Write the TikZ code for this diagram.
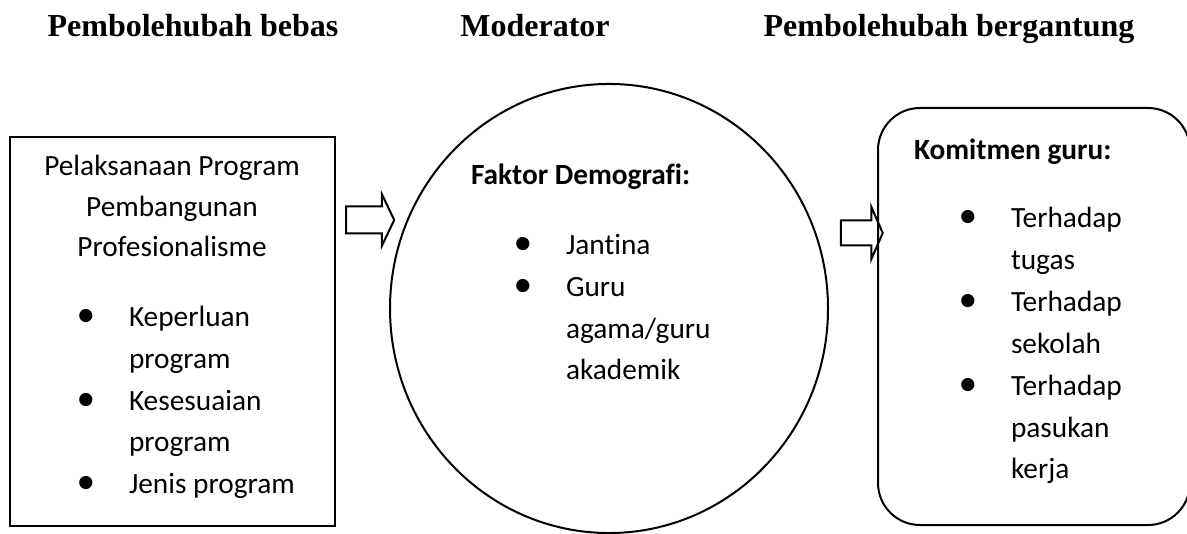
\documentclass[tikz,border=0pt]{standalone}
\usepackage{fontspec}
\setmainfont{Carlito}[Ligatures=NoCommon]
\newfontfamily\hdfont{Liberation Serif}
\usetikzlibrary{shapes.geometric,shapes.arrows}

\begin{document}
\begin{tikzpicture}[
    x=0.375pt,y=-0.375pt,
    line width=0.75pt,
    hd/.style={font=\hdfont\bfseries\fontsize{12}{14}\selectfont,anchor=base,inner sep=0},
    txt/.style={font=\fontsize{11}{13}\selectfont,inner sep=0},
    ttl/.style={font=\bfseries\fontsize{11}{13}\selectfont,inner sep=0,anchor=base west},
    blt/.style={font=\fontsize{14}{14}\selectfont,inner sep=0,anchor=base},
    varbox/.style={draw,rectangle,inner sep=0},
    hollow/.style={draw,single arrow,inner xsep=0,text height=0pt,text depth=0pt}
  ]
    \useasboundingbox (0,0) rectangle (1187,534);
    % headings
    \node[hd] (hbebas) at (193,37) {Pembolehubah bebas};
    \node[hd] (hmod) at (535,37) {Moderator};
    \node[hd] (hberg) at (949,37) {Pembolehubah bergantung};
    % the three blocks
    \node[varbox,minimum width=121.875pt,minimum height=145.875pt] (prog) at (172.5,331.5) {};
    \node[draw,ellipse,inner sep=0,minimum width=164.25pt,minimum height=168.4pt] (demo) at (609,308.5) {};
    \node[varbox,rounded corners=15.75pt,minimum width=117pt,minimum height=156.375pt] (komit) at (1034,316.5) {};
    % block arrows
    \node[hollow,inner ysep=4.6875pt,minimum height=18pt,single arrow head extend=4.6875pt,single arrow tip angle=128.8] (a1) at (367,220) {};
    \node[hollow,inner ysep=4.3125pt,minimum height=15.75pt,single arrow head extend=5.0625pt,single arrow tip angle=132.7] (a2) at (859,233) {};
    % left block text
    \foreach \ln/\yy [count=\i] in {Pelaksanaan Program/176,Pembangunan/217,Profesionalisme/257}
      \node[txt,anchor=base] (pt\i) at (172,\yy) {\ln};
    \foreach \yy [count=\i] in {327,410,493}
      \node[blt] (pb\i) at (86,\yy) {\textbullet};
    \foreach \ln/\yy [count=\i] in {Keperluan/327,program/368,Kesesuaian/410,program/451,Jenis program/493}
      \node[txt,anchor=base west] (pl\i) at (128,\yy) {\ln};
    % moderator text
    \node[ttl] (dtitle) at (470,185) {Faktor Demografi:};
    \foreach \yy [count=\i] in {255,297}
      \node[blt] (db\i) at (523,\yy) {\textbullet};
    \foreach \ln/\yy [count=\i] in {Jantina/255,Guru/297,{agama/guru}/338,akademik/379}
      \node[txt,anchor=base west] (dl\i) at (565,\yy) {\ln};
    % right block text
    \node[ttl] (ktitle) at (913,160) {Komitmen guru:};
    \foreach \yy [count=\i] in {228,312,395}
      \node[blt] (kb\i) at (968,\yy) {\textbullet};
    \foreach \ln/\yy [count=\i] in {Terhadap/228,tugas/270,Terhadap/312,sekolah/353,Terhadap/395,pasukan/437,kerja/478}
      \node[txt,anchor=base west] (kl\i) at (1010,\yy) {\ln};
  \end{tikzpicture}
\end{document}
